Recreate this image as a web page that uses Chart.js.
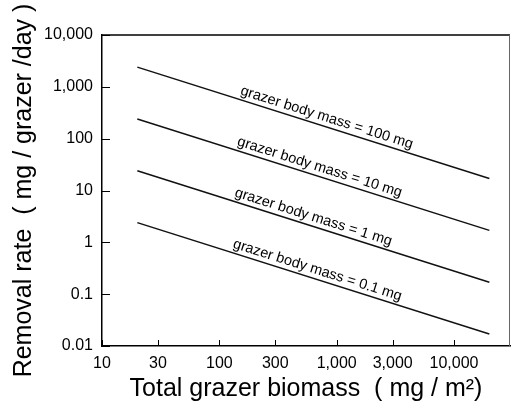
<!DOCTYPE html>
<html>
<head>
<meta charset="utf-8">
<script src="https://cdn.jsdelivr.net/npm/chart.js@4"></script>
<style>
    html, body { margin: 0; padding: 0; background: #fff; }
</style>
</head>
<body>
<canvas id="chart" width="512" height="406"></canvas>
<script>
// Total grazer biomass (mg/m2) at the two ends of each line
const biomass = [20, 20000];

// Removal rate (mg / grazer / day) for each grazer body mass
const mass100 = [2400, 17];
const mass10 = [240, 1.7];
const mass1 = [24, 0.17];
const mass01 = [2.4, 0.017];

const seriesNames = [
    'grazer body mass = 100 mg',
    'grazer body mass = 10 mg',
    'grazer body mass = 1 mg',
    'grazer body mass = 0.1 mg'
];
// biomass value where each label sits along its line
const labelAt = [780, 680, 600, 650];

const xTicks = [10, 30, 100, 300, 1000, 3000, 10000];
const yTicks = [0.01, 0.1, 1, 10, 100, 1000, 10000];

const FONT = '"Liberation Sans", Arial, Helvetica, sans-serif';

function toPoints(values) {
    return biomass.map((b, i) => ({ x: b, y: values[i] }));
}

// inward tick marks, frame and the rotated line labels
const extras = {
    id: 'extras',
    afterDraw(chart) {
        const { ctx, chartArea: area, scales: { x, y } } = chart;
        ctx.save();
        ctx.strokeStyle = '#000';
        ctx.lineWidth = 1;

        xTicks.forEach(v => {
            const px = Math.round(x.getPixelForValue(v)) + 0.5;
            ctx.beginPath();
            ctx.moveTo(px, area.bottom);
            ctx.lineTo(px, area.bottom - 6);
            ctx.stroke();
        });
        yTicks.forEach(v => {
            const py = Math.round(y.getPixelForValue(v)) + 0.5;
            ctx.beginPath();
            ctx.moveTo(area.left, py);
            ctx.lineTo(area.left + 8, py);
            ctx.stroke();
        });

        // top and right frame
        ctx.lineWidth = 1.5;
        ctx.beginPath();
        ctx.moveTo(area.left, area.top);
        ctx.lineTo(area.right, area.top);
        ctx.stroke();
        ctx.strokeStyle = '#666';
        ctx.lineWidth = 1;
        ctx.beginPath();
        ctx.moveTo(area.right - 0.5, area.top);
        ctx.lineTo(area.right - 0.5, area.bottom);
        ctx.stroke();

        ctx.font = '14.5px ' + FONT;
        ctx.fillStyle = '#000';
        ctx.textAlign = 'center';
        ctx.textBaseline = 'middle';
        chart.data.datasets.forEach((ds, i) => {
            const p0 = ds.data[0], p1 = ds.data[1];
            const x0 = x.getPixelForValue(p0.x), y0 = y.getPixelForValue(p0.y);
            const x1 = x.getPixelForValue(p1.x), y1 = y.getPixelForValue(p1.y);
            const ang = Math.atan2(y1 - y0, x1 - x0);
            const t = (x.getPixelForValue(labelAt[i]) - x0) / (x1 - x0);
            const lx = x0 + t * (x1 - x0);
            const ly = y0 + t * (y1 - y0);
            const off = 9;
            ctx.save();
            ctx.translate(lx + off * Math.sin(ang), ly - off * Math.cos(ang));
            ctx.rotate(ang);
            ctx.fillText(seriesNames[i], 0, 0);
            ctx.restore();
        });
        ctx.restore();
    }
};

const lineStyle = {
    borderColor: '#111',
    borderWidth: 1.5,
    pointRadius: 0,
    fill: false,
    tension: 0
};

new Chart(document.getElementById('chart'), {
    type: 'line',
    data: {
        datasets: [
            { label: seriesNames[0], data: toPoints(mass100), ...lineStyle },
            { label: seriesNames[1], data: toPoints(mass10), ...lineStyle },
            { label: seriesNames[2], data: toPoints(mass1), ...lineStyle },
            { label: seriesNames[3], data: toPoints(mass01), ...lineStyle }
        ]
    },
    options: {
        responsive: false,
        animation: false,
        devicePixelRatio: 1,
        layout: { padding: { top: 35, right: 2, left: 0, bottom: 0 } },
        plugins: {
            legend: { display: false },
            tooltip: { enabled: false }
        },
        scales: {
            x: {
                type: 'logarithmic',
                min: 10,
                max: 30000,
                afterBuildTicks: s => { s.ticks = xTicks.map(v => ({ value: v })); },
                afterFit: s => { s.height = 60; },
                ticks: {
                    autoSkip: false,
                    maxRotation: 0,
                    padding: 8,
                    color: '#000',
                    font: { family: FONT, size: 16 },
                    callback: v => v.toLocaleString('en-US')
                },
                grid: { display: false, drawTicks: false },
                border: { display: true, color: '#000', width: 1.5 },
                title: {
                    display: true,
                    text: 'Total grazer biomass  ( mg / m\u00B2)',
                    color: '#000',
                    font: { family: FONT, size: 25 },
                    padding: { top: 0, bottom: 2 }
                }
            },
            y: {
                type: 'logarithmic',
                min: 0.01,
                max: 10000,
                afterBuildTicks: s => { s.ticks = yTicks.map(v => ({ value: v })); },
                afterFit: s => { s.width = 102; },
                ticks: {
                    autoSkip: false,
                    padding: 9,
                    color: '#000',
                    font: { family: FONT, size: 16 },
                    callback: v => v.toLocaleString('en-US')
                },
                grid: { display: false, drawTicks: false },
                border: { display: true, color: '#000', width: 1.5 },
                title: {
                    display: true,
                    text: 'Removal rate  ( mg / grazer /day )',
                    color: '#000',
                    font: { family: FONT, size: 25 },
                    padding: { top: 9, bottom: 0 }
                }
            }
        }
    },
    plugins: [extras]
});
</script>
</body>
</html>
